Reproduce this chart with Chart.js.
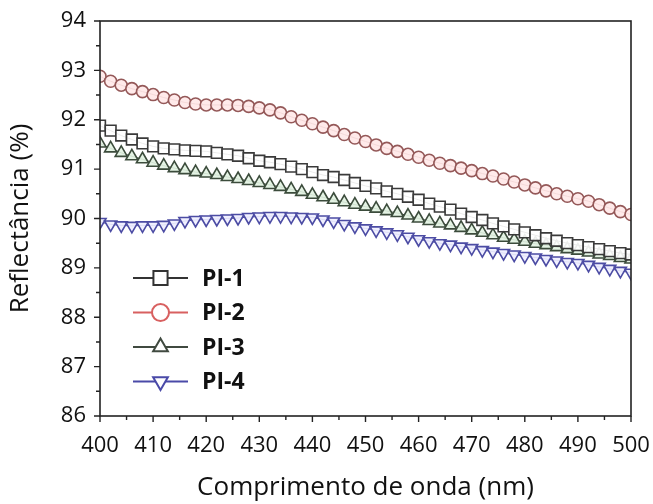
<!DOCTYPE html>
<html>
<head>
<meta charset="utf-8">
<script src="https://cdn.jsdelivr.net/npm/chart.js@4/dist/chart.umd.min.js"></script>
<style>
  html, body { margin: 0; padding: 0; background: #fff; }
  #wrap { width: 653px; height: 504px; }
</style>
</head>
<body>
<div id="wrap"><canvas id="chart" width="653" height="504"></canvas></div>
<script>
// wavelength (nm), one point every 2 nm
var wavelengths = [400,402,404,406,408,410,412,414,416,418,420,422,424,426,428,430,432,434,436,438,440,442,444,446,448,450,452,454,456,458,460,462,464,466,468,470,472,474,476,478,480,482,484,486,488,490,492,494,496,498,500];

var pi1 = [91.88,91.78,91.68,91.60,91.52,91.46,91.42,91.40,91.38,91.37,91.36,91.33,91.30,91.27,91.22,91.17,91.14,91.10,91.05,91.00,90.94,90.88,90.84,90.78,90.72,90.66,90.61,90.55,90.50,90.44,90.38,90.30,90.24,90.18,90.10,90.03,89.97,89.90,89.84,89.78,89.72,89.66,89.60,89.55,89.50,89.46,89.42,89.38,89.34,89.30,89.27];
var pi2 = [92.88,92.78,92.70,92.63,92.57,92.51,92.45,92.40,92.35,92.32,92.30,92.30,92.30,92.29,92.27,92.24,92.20,92.14,92.06,91.99,91.92,91.85,91.78,91.70,91.63,91.56,91.49,91.42,91.36,91.30,91.24,91.18,91.12,91.07,91.02,90.97,90.91,90.86,90.80,90.74,90.68,90.62,90.56,90.50,90.45,90.40,90.35,90.28,90.21,90.14,90.08];
var pi3 = [91.52,91.42,91.33,91.26,91.20,91.13,91.07,91.02,90.98,90.94,90.91,90.88,90.84,90.80,90.76,90.72,90.68,90.64,90.59,90.54,90.48,90.43,90.38,90.33,90.28,90.24,90.20,90.15,90.11,90.06,90.00,89.95,89.90,89.86,89.81,89.76,89.71,89.66,89.61,89.57,89.53,89.49,89.46,89.42,89.38,89.35,89.31,89.27,89.24,89.20,89.17];
var pi4 = [89.93,89.88,89.86,89.85,89.86,89.86,89.87,89.90,89.95,89.97,89.98,89.99,90.00,90.01,90.03,90.04,90.05,90.05,90.04,90.03,90.02,89.98,89.94,89.89,89.84,89.80,89.76,89.72,89.68,89.63,89.58,89.54,89.50,89.47,89.43,89.40,89.36,89.33,89.30,89.27,89.24,89.21,89.18,89.15,89.12,89.10,89.06,89.02,88.98,88.94,88.90];

var seriesNames = ['PI-1', 'PI-2', 'PI-3', 'PI-4'];
var xTicks = [400,410,420,430,440,450,460,470,480,490,500];
var yTicks = [86,87,88,89,90,91,92,93,94];

function pts(vals) {
    return vals.map(function (v, i) { return {x: wavelengths[i], y: v}; });
}

var FONT = '"Open Sans", "Noto Sans", sans-serif';

// box round the plot + outward ticks (major and minor)
var framePlugin = {
    id: 'frame',
    afterDraw: function (chart) {
        var ctx = chart.ctx, a = chart.chartArea;
        var x = chart.scales.x, y = chart.scales.y;
        ctx.save();
        ctx.strokeStyle = '#222';
        ctx.lineWidth = 1.6;
        ctx.strokeRect(a.left, a.top, a.right - a.left, a.bottom - a.top);
        ctx.lineWidth = 1.4;
        ctx.beginPath();
        for (var v = 400; v <= 500; v += 5) {
            var px = x.getPixelForValue(v);
            var len = (v % 10 === 0) ? 6 : 4;
            ctx.moveTo(px, a.bottom);
            ctx.lineTo(px, a.bottom + len);
        }
        for (var w = 86; w <= 94; w += 0.5) {
            var py = y.getPixelForValue(w);
            var l = (w % 1 === 0) ? 6 : 4;
            ctx.moveTo(a.left, py);
            ctx.lineTo(a.left - l, py);
        }
        ctx.stroke();
        ctx.restore();
    }
};

// legend drawn inside the plot, lower left
var legendColors = ['#333333', '#d86060', '#404a40', '#4a4aa8'];
var legendPlugin = {
    id: 'innerLegend',
    afterDatasetsDraw: function (chart) {
        var ctx = chart.ctx;
        var x0 = 133, x1 = 188, y0 = 278, gap = 34.5;
        ctx.save();
        chart.data.datasets.forEach(function (ds, i) {
            var yy = y0 + i * gap;
            ctx.strokeStyle = legendColors[i];
            ctx.lineWidth = 2;
            ctx.beginPath();
            ctx.moveTo(x0, yy);
            ctx.lineTo(x1, yy);
            ctx.stroke();
            ctx.fillStyle = '#fff';
            Chart.helpers.drawPoint(ctx, {
                pointStyle: ds.pointStyle,
                rotation: ds.pointRotation || 0,
                radius: ds.pointStyle === 'rect' ? 10 : 8.5,
                borderWidth: 2
            }, (x0 + x1) / 2, yy);
            ctx.fillStyle = '#111';
            ctx.font = 'bold 23px ' + FONT;
            ctx.textBaseline = 'middle';
            ctx.fillText(seriesNames[i], 202, yy + 1);
        });
        ctx.restore();
    }
};

var ctx = document.getElementById('chart').getContext('2d');

new Chart(ctx, {
    type: 'line',
    data: {
        datasets: [{
            label: seriesNames[0],
            data: pts(pi1),
            borderColor: '#3a3a3a',
            backgroundColor: 'rgba(255,255,255,0.9)',
            pointStyle: 'rect',
            pointRadius: 7.6,
            pointBorderWidth: 1.6,
            borderWidth: 1
        },
        {
            label: seriesNames[1],
            data: pts(pi2),
            borderColor: '#945858',
            backgroundColor: 'rgba(255,232,232,0.9)',
            pointStyle: 'circle',
            pointRadius: 6,
            pointBorderWidth: 1.6,
            borderWidth: 1
        },
        {
            label: seriesNames[2],
            data: pts(pi3),
            borderColor: '#3c4c3c',
            backgroundColor: 'rgba(225,242,225,0.9)',
            pointStyle: 'triangle',
            pointRadius: 7,
            pointBorderWidth: 1.6,
            borderWidth: 1
        },
        {
            label: seriesNames[3],
            data: pts(pi4),
            borderColor: '#4c4ca4',
            backgroundColor: 'rgba(238,238,255,0.9)',
            pointStyle: 'triangle',
            pointRotation: 180,
            pointRadius: 7,
            pointBorderWidth: 1.6,
            borderWidth: 1
        }]
    },
    options: {
        responsive: false,
        animation: false,
        layout: { padding: { top: 21, right: 22, left: 0, bottom: 0 } },
        plugins: {
            legend: { display: false },
            tooltip: { enabled: false }
        },
        scales: {
            x: {
                type: 'linear',
                min: 400,
                max: 500,
                grid: { display: false, drawTicks: false },
                border: { display: false },
                afterBuildTicks: function (s) { s.ticks = xTicks.map(function (v) { return {value: v}; }); },
                afterFit: function (s) { s.height = 88; s.paddingLeft = 0; s.paddingRight = 0; },
                ticks: { color: '#111', padding: 17, maxRotation: 0, font: { family: FONT, size: 22 } },
                title: {
                    display: true,
                    text: 'Comprimento de onda (nm)',
                    color: '#111',
                    padding: { top: 0, bottom: 1 },
                    font: { family: FONT, size: 26 }
                }
            },
            y: {
                min: 86,
                max: 94,
                grid: { display: false, drawTicks: false },
                border: { display: false },
                afterBuildTicks: function (s) { s.ticks = yTicks.map(function (v) { return {value: v}; }); },
                afterFit: function (s) { s.width = 100; s.paddingTop = 0; s.paddingBottom = 0; },
                ticks: { color: '#111', padding: 14, font: { family: FONT, size: 22 } },
                title: {
                    display: true,
                    text: 'Reflectância (%)',
                    color: '#111',
                    padding: { top: 5, bottom: 0 },
                    font: { family: FONT, size: 26 }
                }
            }
        }
    },
    plugins: [framePlugin, legendPlugin]
});
</script>
</body>
</html>
